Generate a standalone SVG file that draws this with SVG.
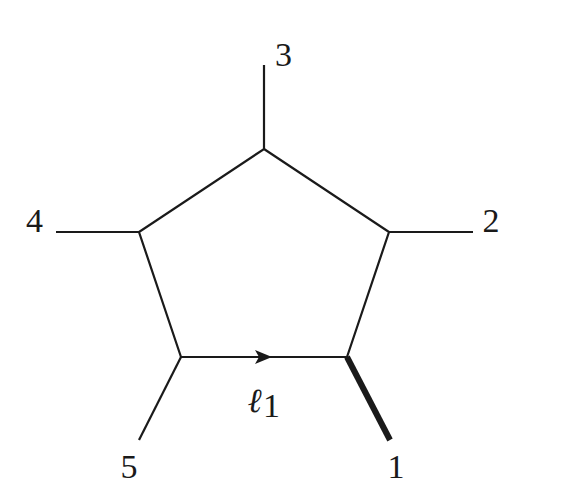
<svg xmlns="http://www.w3.org/2000/svg" width="581" height="485" viewBox="0 0 581 485">
<style>
.e{stroke:#1a1a1a;stroke-width:2.2;fill:none;stroke-linecap:butt}
text{font-family:'Liberation Serif','DejaVu Serif',serif;font-size:34px;fill:#1a1a1a;text-anchor:middle}
</style>
<rect width="581" height="485" fill="#fff"/>
<g id="connectors">
<path class="e" d="M264,149 L389,232 L347,357 L181,357 L139,232 Z" stroke-linejoin="miter"/>
<line class="e" x1="264" y1="149" x2="264" y2="65"/>
<line class="e" x1="389" y1="232" x2="473" y2="232"/>
<line class="e" x1="347" y1="357" x2="390" y2="440" style="stroke-width:6"/>
<line class="e" x1="181" y1="357" x2="139" y2="440"/>
<line class="e" x1="139" y1="232" x2="56" y2="232"/>
<path d="M255,350 L272,357 L255,364 L259,357 Z" fill="#1a1a1a"/>
</g>
<g id="n3"><text x="283.5" y="66">3</text></g>
<g id="n2"><text x="491" y="232">2</text></g>
<g id="n1"><text x="396" y="478">1</text></g>
<g id="n5"><text x="129" y="478">5</text></g>
<g id="n4"><text x="34.5" y="232">4</text></g>
<g id="label"><text x="254.5" y="412" font-size="36" font-style="italic">ℓ</text><text x="271.5" y="417" font-size="28">1</text></g>
</svg>
